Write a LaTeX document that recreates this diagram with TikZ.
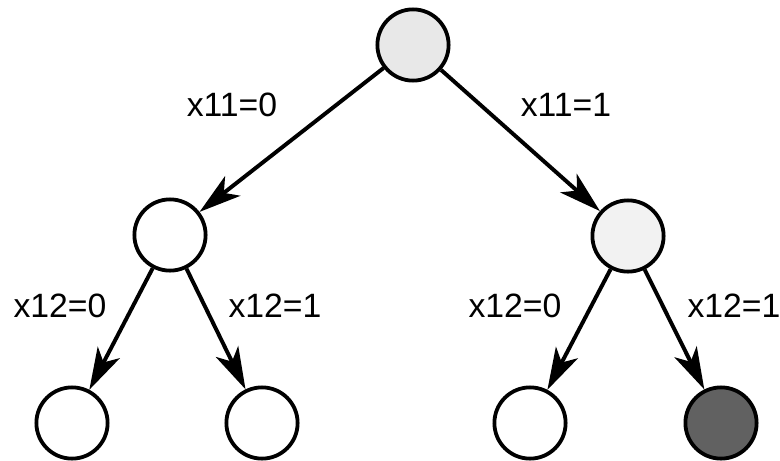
\documentclass[tikz,border=0pt]{standalone}
\usepackage{fontspec}
\setmainfont{Liberation Sans}
\usetikzlibrary{arrows.meta, positioning}

\begin{document}
\begin{tikzpicture}[
        x=0.025cm, y=-0.025cm,
        >={Stealth[length=1.05cm, width=0.62cm, inset=0.28cm]}, % big solid heads
        font=\fontsize{24}{28}\selectfont,
        state/.style={circle, draw, line width=2.7pt, minimum size=1.78cm, inner sep=0pt},
        branch/.style={->, line width=2.8pt},
        lbl/.style={inner sep=0pt}
    ]
    % --- frame (pixel units) ---
    \useasboundingbox (0,0) rectangle (780,460);

    % --- tree nodes ---
    \node[state, fill=black!9]  (root) at (413,45) {};
    \node[state]                (a)    at (170,235) {};
    \node[state, fill=black!5]  (b)    at (628,236) {};
    \node[state]                (a0)   at (72,423) {};
    \node[state]                (a1)   at (262,423) {};
    \node[state]                (b0)   at (530,423) {};
    \node[state, fill=black!62] (b1)   at (721,423) {};

    % --- branches ---
    \draw[branch] (root) -- (a);
    \draw[branch] (root) -- (b);
    \foreach \p in {a, b} {
        \draw[branch] (\p) -- (\p0);
        \draw[branch] (\p) -- (\p1);
    }

    % --- branch labels ---
    \node[lbl] (la)  at (232,105) {x11=0};
    \node[lbl] (lb)  at (566,105) {x11=1};
    \node[lbl] (la0) at (60,306)  {x12=0};
    \node[lbl] (la1) at (275,306) {x12=1};
    \node[lbl] (lb0) at (515,306) {x12=0};
    \node[lbl] (lb1) at (734,306) {x12=1};
\end{tikzpicture}
\end{document}
